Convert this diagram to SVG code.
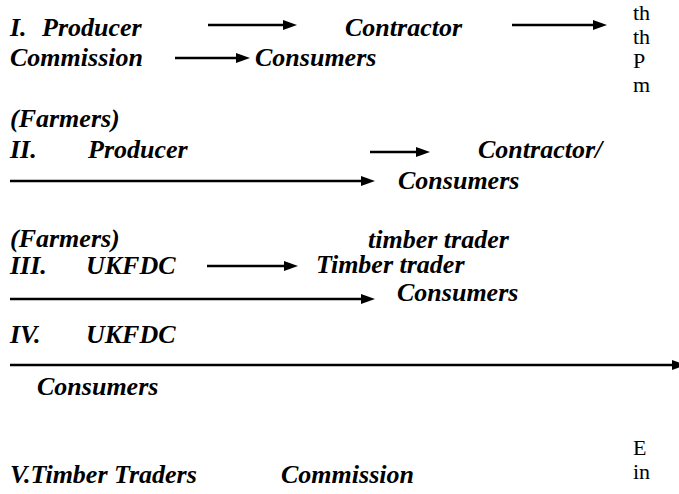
<svg xmlns="http://www.w3.org/2000/svg" width="679" height="494" viewBox="0 0 679 494">
<style>
.t{font-family:"Liberation Serif","Times New Roman",serif;font-size:26px;font-weight:bold;font-style:italic;fill:#000}
.r{font-family:"Liberation Serif","Times New Roman",serif;font-size:22px;fill:#000}
.c{stroke:#000;stroke-width:2.4;fill:none}
</style>
<defs>
<marker id="ah" viewBox="0 0 14 10" refX="4" refY="5" markerWidth="14" markerHeight="10" markerUnits="userSpaceOnUse" orient="auto">
<path d="M0,0 L14,5 L0,10 z" fill="#000"/>
</marker>
</defs>
<rect width="679" height="494" fill="#fff"/>
<g id="row1">
<g id="n-producer1"><text class="t" x="10" y="36">I.</text><text class="t" x="42" y="36">Producer</text></g>
<g id="n-contractor1"><text class="t" x="345" y="36">Contractor</text></g>
<g id="n-commission1"><text class="t" x="10" y="66">Commission</text></g>
<g id="n-consumers1"><text class="t" x="255" y="66">Consumers</text></g>
</g>
<g id="row2">
<g id="n-farmers2"><text class="t" x="10" y="127">(Farmers)</text></g>
<g id="n-producer2"><text class="t" x="10" y="158">II.</text><text class="t" x="88" y="158">Producer</text></g>
<g id="n-contractor2"><text class="t" x="478" y="158">Contractor/</text></g>
<g id="n-consumers2"><text class="t" x="398" y="189">Consumers</text></g>
</g>
<g id="row3">
<g id="n-farmers3"><text class="t" x="10" y="247">(Farmers)</text></g>
<g id="n-timber3a"><text class="t" x="368" y="248">timber trader</text></g>
<g id="n-ukfdc3"><text class="t" x="10" y="274">III.</text><text class="t" x="86" y="274">UKFDC</text></g>
<g id="n-timber3b"><text class="t" x="316" y="273">Timber trader</text></g>
<g id="n-consumers3"><text class="t" x="397" y="301">Consumers</text></g>
</g>
<g id="row4">
<g id="n-ukfdc4"><text class="t" x="10" y="343">IV.</text><text class="t" x="86" y="343">UKFDC</text></g>
<g id="n-consumers4"><text class="t" x="37" y="395">Consumers</text></g>
</g>
<g id="row5">
<g id="n-timber5"><text class="t" x="10" y="483">V.Timber Traders</text></g>
<g id="n-commission5"><text class="t" x="281" y="483">Commission</text></g>
</g>
<g id="side-text">
<text class="r" x="633" y="20">th</text>
<text class="r" x="633" y="44">th</text>
<text class="r" x="633" y="68">P</text>
<text class="r" x="633" y="92">m</text>
<text class="r" x="633" y="455">E</text>
<text class="r" x="633" y="479">in</text>
</g>
<g id="connectors">
<line class="c" x1="208" y1="25" x2="287" y2="25" marker-end="url(#ah)"/>
<line class="c" x1="512" y1="25" x2="597" y2="25" marker-end="url(#ah)"/>
<line class="c" x1="175" y1="58" x2="240" y2="58" marker-end="url(#ah)"/>
<line class="c" x1="370" y1="152" x2="420" y2="152" marker-end="url(#ah)"/>
<line class="c" x1="10" y1="181" x2="365" y2="181" marker-end="url(#ah)"/>
<line class="c" x1="207" y1="266" x2="288" y2="266" marker-end="url(#ah)"/>
<line class="c" x1="10" y1="299" x2="365" y2="299" marker-end="url(#ah)"/>
<line class="c" x1="10" y1="365" x2="676" y2="365" marker-end="url(#ah)"/>
</g>
</svg>
